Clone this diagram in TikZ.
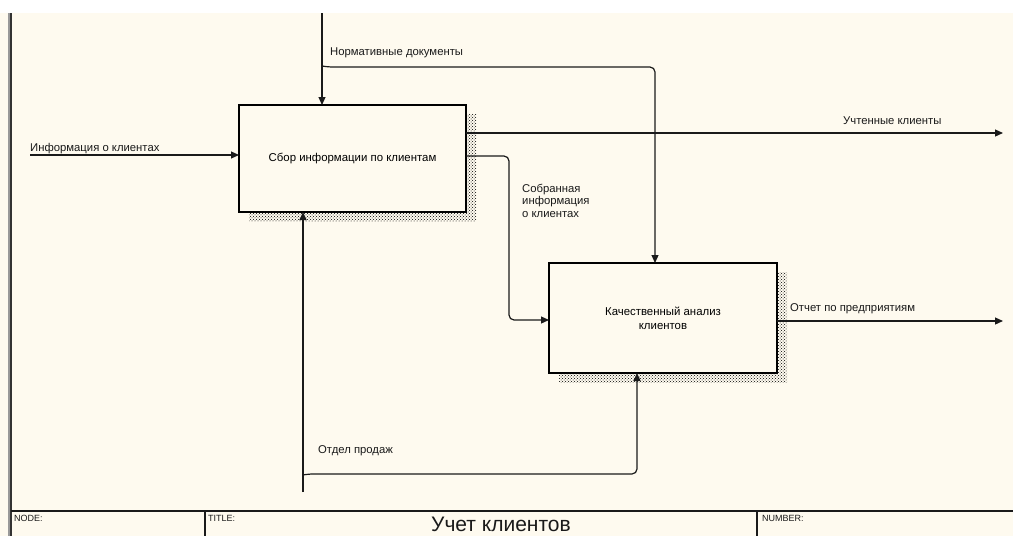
\documentclass[tikz,border=0pt]{standalone}
\usepackage{fontspec}
\setmainfont{Liberation Sans}
\usetikzlibrary{arrows.meta,patterns,shadows}

\definecolor{paper}{HTML}{FEFAEF}
\definecolor{ink}{HTML}{1A1A1A}

\begin{document}
\begin{tikzpicture}[x=1pt,y=-1pt,
  flow/.style={draw=ink, line width=1.2pt, rounded corners=5pt},
  tip/.style={-{Triangle[length=8pt,width=7pt]}},
  act/.style={draw=black, line width=2.6pt, fill=paper, inner sep=0pt, outer sep=0pt,
    align=center, font=\fontsize{11.4}{14}\selectfont,
    general shadow={shadow xshift=10pt, shadow yshift=-9pt,
      pattern=crosshatch dots, pattern color=black}},
  lbl/.style={font=\fontsize{11.3}{12.5}\selectfont, text=ink, inner sep=0pt, anchor=base west, align=left},
  foot/.style={font=\fontsize{9}{10}\selectfont, text=ink, inner sep=0pt, anchor=base west},
  frame/.style={draw=ink, line width=1.8pt}]

% sheet
\useasboundingbox (0,0) rectangle (1013,536);
\fill[white] (0,0) rectangle (1013,536);
\fill[paper] (0,13) rectangle (1013,536);
\draw[black!40, line width=1.6pt] (9.2,13) -- (9.2,536);
\draw[black!80, line width=2.2pt] (11.3,13) -- (11.3,536);

% activity boxes
\node[act, minimum width=227pt, minimum height=107pt] (b1) at (352.5,158.5)
  {Сбор информации по клиентам};
\node[act, minimum width=228pt, minimum height=110pt] (b2) at (663,318)
  {Качественный анализ\\клиентов};

% free ends of the arrows
\coordinate (nd0) at (322,13);
\coordinate (ndj) at (322,61);
\coordinate (ndj2) at (328,67);
\coordinate (ndk) at (655,67);
\coordinate (in0) at (30,155);
\coordinate (uc) at (1003,133);
\coordinate (sb) at (509,156);
\coordinate (sb2) at (509,320);
\coordinate (ot) at (1003,321);
\coordinate (op) at (303,492);
\coordinate (opj) at (303,479);
\coordinate (opj2) at (308,474);
\coordinate (opk) at (637,474);

% control: Нормативные документы
\draw[flow, tip] (nd0) -- (nd0 |- b1.north);
\draw[flow, tip] (ndj) .. controls (322,66) .. (ndj2) -- (ndk) -- (ndk |- b2.north);
\node[lbl] (lnd) at (330,55) {Нормативные документы};

% input: Информация о клиентах
\draw[flow, tip] (in0) -- (in0 -| b1.west);
\node[lbl] (lin) at (30,151) {Информация о клиентах};

% output: Учтенные клиенты
\draw[flow, tip] (uc -| b1.east) -- (uc);
\node[lbl] (luc) at (843,124) {Учтенные клиенты};

% Собранная информация о клиентах
\draw[flow, tip] (sb -| b1.east) -- (sb) -- (sb2) -- (sb2 -| b2.west);
\node[lbl, anchor=north west] (lsb) at (522,184) {Собранная\\информация\\о клиентах};

% output: Отчет по предприятиям
\draw[flow, tip] (ot -| b2.east) -- (ot);
\node[lbl] (lot) at (790,311) {Отчет по предприятиям};

% mechanism: Отдел продаж
\draw[flow, tip] (op) -- (op |- b1.south);
\draw[flow, tip] (opj) .. controls (303,475) .. (opj2) -- (opk) -- (opk |- b2.south);
\node[lbl] (lop) at (318,453) {Отдел продаж};

% title block
\draw[frame] (10.5,511) -- (1013,511);
\draw[frame] (205,511) -- (205,536);
\draw[frame] (757,511) -- (757,536);
\node[foot] (fnode) at (14,521) {NODE:};
\node[foot] (ftitle) at (208,521) {TITLE:};
\node[foot] (fnum) at (762,521) {NUMBER:};
\node[font=\fontsize{21}{24}\selectfont, text=ink, inner sep=0pt, anchor=base] (ttl) at (501,531) {Учет клиентов};
\end{tikzpicture}
\end{document}
